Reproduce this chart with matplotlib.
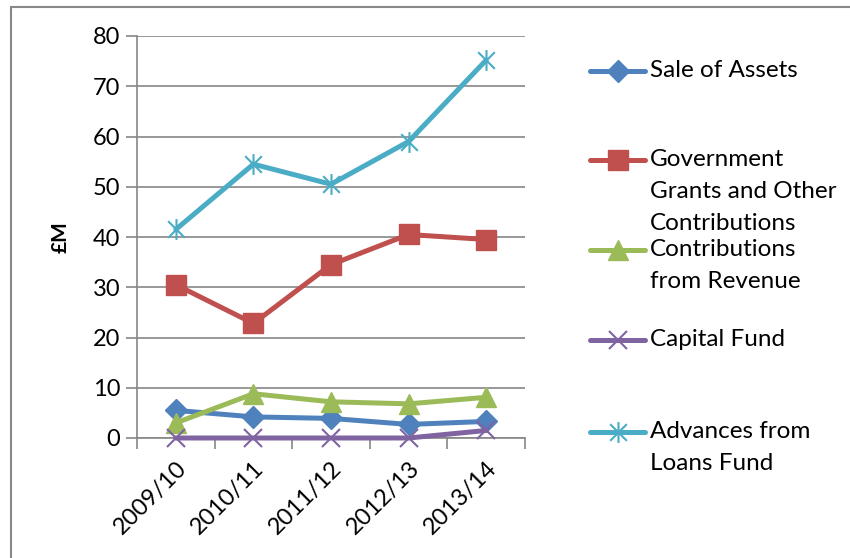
import matplotlib.pyplot as plt
from matplotlib.lines import Line2D
from matplotlib.patches import Rectangle
from matplotlib.path import Path

plt.rcParams["font.family"] = ["Lato", "DejaVu Sans"]

years = ["2009/10", "2010/11", "2011/12", "2012/13", "2013/14"]
sale_of_assets = [5.5, 4.2, 3.9, 2.7, 3.3]
govt_grants = [30.5, 22.8, 34.5, 40.5, 39.5]
contrib_revenue = [3.0, 8.8, 7.2, 6.8, 8.1]
capital_fund = [0.0, 0.0, 0.0, 0.0, 1.5]
advances_loans = [41.5, 54.5, 50.5, 59.0, 75.2]

labels = [
    "Sale of Assets",
    "Government\nGrants and Other\nContributions",
    "Contributions\nfrom Revenue",
    "Capital Fund",
    "Advances from\nLoans Fund",
]

# excel style asterisk marker: an X with a vertical stroke
star = Path(
    [(-1, -1), (1, 1), (-1, 1), (1, -1), (0, -1.25), (0, 1.25)],
    [Path.MOVETO, Path.LINETO, Path.MOVETO, Path.LINETO, Path.MOVETO, Path.LINETO],
)

styles = [
    dict(color="#4F81BD", marker="D", ms=11),
    dict(color="#C0504D", marker="s", ms=14),
    dict(color="#9BBB59", marker="^", ms=14),
    dict(color="#8064A2", marker="x", ms=13, mew=1.5),
    dict(color="#4BACC6", marker=star, ms=15, mew=1.5),
]
series = [sale_of_assets, govt_grants, contrib_revenue, capital_fund, advances_loans]

fig = plt.figure(figsize=(8.5, 5.58), dpi=100)
fig.add_artist(Rectangle((11 / 850, -0.1), 1.2, 1 - 7 / 558 + 0.1,
                         transform=fig.transFigure, fill=False,
                         edgecolor="#888888", lw=1.5))

ax = fig.add_axes([137 / 850, 1 - 438 / 558, (525 - 137) / 850, (438 - 36) / 558])
x = list(range(len(years)))
for vals, st in zip(series, styles):
    ax.plot(x, vals, lw=3.6, solid_capstyle="round", clip_on=False, zorder=3, **st)

ax.set_xlim(-0.5, len(years) - 0.5)
ax.set_ylim(0, 80)
ax.set_yticks(range(0, 81, 10))
ax.set_xticks(x)
ax.set_xticklabels(years, rotation=45, ha="right", rotation_mode="anchor")
ax.set_xticks([i - 0.5 for i in range(len(years) + 1)], minor=True)
ax.tick_params(axis="x", which="major", length=0, labelsize=17, pad=14)
ax.tick_params(axis="x", which="minor", length=8, width=1.2, color="#868686")
ax.tick_params(axis="y", length=8, width=1.2, color="#868686", labelsize=17, pad=4)
ax.grid(axis="y", color="#868686", lw=1.2)
ax.set_axisbelow(True)
for s in ["top", "right"]:
    ax.spines[s].set_visible(False)
for s in ["left", "bottom"]:
    ax.spines[s].set_color("#868686")
    ax.spines[s].set_linewidth(1.2)
    ax.spines[s].set_zorder(1)
ax.set_ylabel("£M", fontsize=15, fontweight="bold", labelpad=16)

# legend drawn by hand to mimic Excel layout
leg_y = [71, 160, 250, 340, 432]
for lab, st, yy in zip(labels, styles, leg_y):
    yf = 1 - yy / 558
    fig.add_artist(Line2D([590 / 850, 617.5 / 850, 645 / 850], [yf, yf, yf],
                          transform=fig.transFigure, lw=3.6, solid_capstyle="round",
                          markevery=[1], **st))
    fig.text(650 / 850, yf + 11 / 558, lab, fontsize=17.5, va="top", ha="left",
             linespacing=1.65)

fig.savefig("out.png", dpi=100)
